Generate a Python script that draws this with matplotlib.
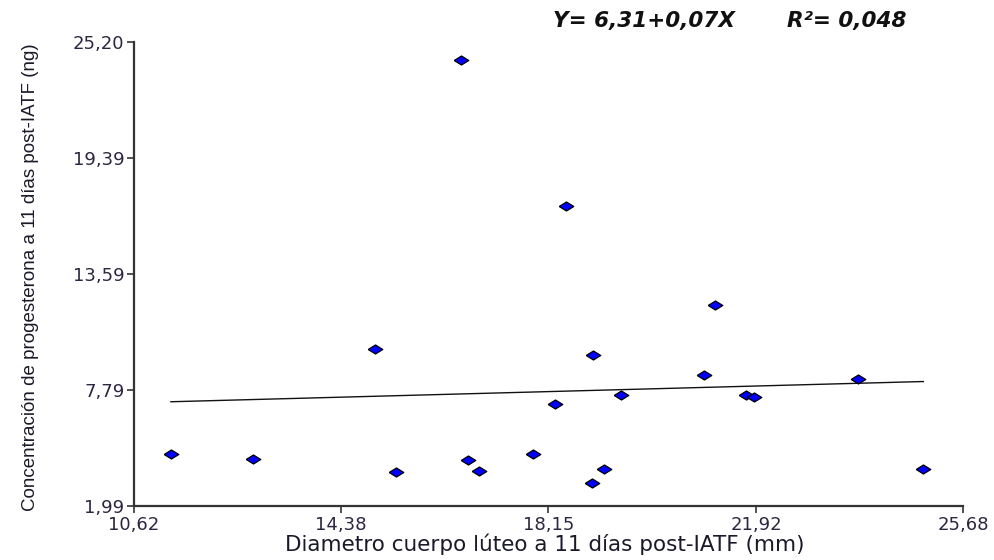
import numpy as np
import matplotlib.pyplot as plt

plt.rcParams['font.family'] = ['DejaVu Sans']

# diametro cuerpo luteo (mm) y progesterona (ng)
diametro = [11.29, 12.79, 14.99, 15.38, 16.56, 16.68, 16.88, 17.86, 18.26, 18.47,
            18.95, 18.94, 19.15, 19.47, 20.97, 21.17, 21.74, 21.88, 23.77, 24.96]
progesterona = [4.58, 4.36, 9.83, 3.68, 24.28, 4.29, 3.74, 4.58, 7.09, 16.99,
                9.53, 3.16, 3.82, 7.54, 8.54, 12.04, 7.56, 7.46, 8.32, 3.82]

xticks = [10.62, 14.38, 18.15, 21.92, 25.68]
yticks = [1.99, 7.79, 13.59, 19.39, 25.20]

# recta de regresion
intercepto = 6.37
pendiente = 0.074

fig = plt.figure(figsize=(9.95, 5.6), dpi=100)
ax = fig.add_axes([0.1347, 0.0964, 0.8331, 0.8286])

xr = np.array([min(diametro), max(diametro)])
ax.plot(xr, intercepto + pendiente * xr, color='#111111', lw=1.0, zorder=2)

rombo = [(-1, 0), (0, 0.62), (1, 0), (0, -0.62), (-1, 0)]
ax.scatter(diametro, progesterona, marker=rombo, s=110, c='#0000ff',
           edgecolors='black', linewidths=0.9, zorder=3)

ax.set_xlim(10.62, 25.68)
ax.set_ylim(1.99, 25.20)
ax.set_xticks(xticks)
ax.set_yticks(yticks)
ax.set_xticklabels([f'{v:.2f}'.replace('.', ',') for v in xticks], fontsize=13, color='#2e2640')
ax.set_yticklabels([f'{v:.2f}'.replace('.', ',') for v in yticks], fontsize=13, color='#2e2640')
ax.tick_params(direction='out', length=5, width=1.2, color='#333333', pad=2)

for s in ['top', 'right']:
    ax.spines[s].set_visible(False)
for s in ['left', 'bottom']:
    ax.spines[s].set_linewidth(1.6)
    ax.spines[s].set_color('#333333')

ax.set_xlabel('Diametro cuerpo lúteo a 11 días post-IATF (mm)', fontsize=15.5,
              color='#1a1a2a')
ax.xaxis.set_label_coords(0.496, -0.06)
ax.set_ylabel('Concentración de progesterona a 11 días post-IATF (ng)', fontsize=13.5,
              color='#1a1a2a', family=['Liberation Sans Narrow', 'Liberation Sans'])
ax.yaxis.set_label_coords(-0.1146, 0.494)

fig.text(0.5558, 0.9625, 'Y= 6,31+0,07X', fontsize=15.5, fontweight='bold', fontstyle='italic',
         color='#111111', va='center')
fig.text(0.791, 0.9625, 'R²= 0,048', fontsize=15.5, fontweight='bold', fontstyle='italic',
         color='#111111', va='center')

fig.savefig('out.png', dpi=100)
